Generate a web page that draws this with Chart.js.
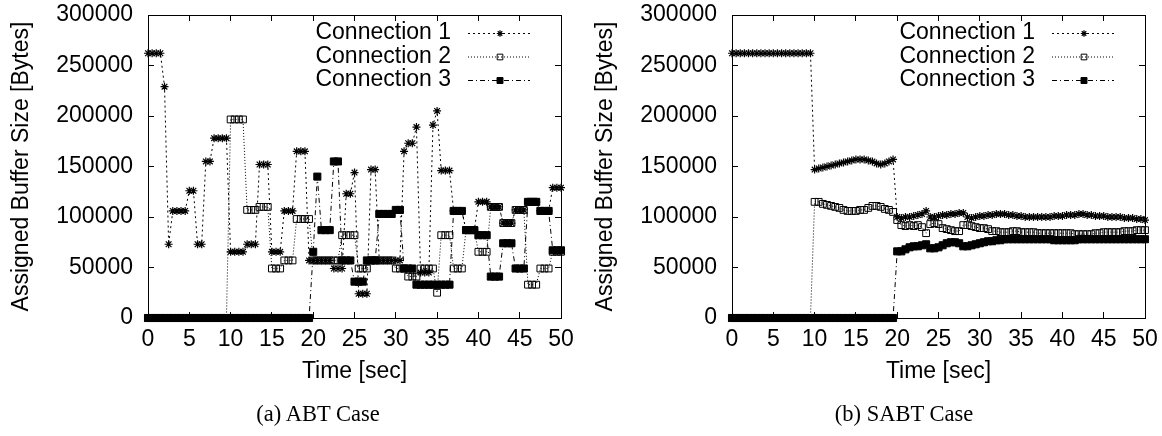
<!DOCTYPE html>
<html>
<head>
<meta charset="utf-8">
<script src="https://cdn.jsdelivr.net/npm/chart.js@4.4.1/dist/chart.umd.min.js"></script>
<style>
  body { margin: 0; background: #fff; width: 1162px; height: 436px; overflow: hidden; position: relative; }
  canvas { position: absolute; top: 0; }
  .caption { position: absolute; top: 401px; font: 22.5px "Liberation Serif", "Times New Roman", serif; transform: translateX(-50%); white-space: nowrap; color: #000; }
</style>
</head>
<body>
<canvas id="abtChart" width="581" height="436" style="left:0"></canvas>
<canvas id="sabtChart" width="578" height="436" style="left:584px"></canvas>
<div class="caption" style="left:318px">(a) ABT Case</div>
<div class="caption" style="left:904px">(b) SABT Case</div>
<script>
// sample times [sec]
const timeSec = [
  0, 0.5, 1, 1.5, 2, 2.5, 3, 3.5, 4, 4.5,
  5, 5.5, 6, 6.5, 7, 7.5, 8, 8.5, 9, 9.5,
  10, 10.5, 11, 11.5, 12, 12.5, 13, 13.5, 14, 14.5,
  15, 15.5, 16, 16.5, 17, 17.5, 18, 18.5, 19, 19.5,
  20, 20.5, 21, 21.5, 22, 22.5, 23, 23.5, 24, 24.5,
  25, 25.5, 26, 26.5, 27, 27.5, 28, 28.5, 29, 29.5,
  30, 30.5, 31, 31.5, 32, 32.5, 33, 33.5, 34, 34.5,
  35, 35.5, 36, 36.5, 37, 37.5, 38, 38.5, 39, 39.5,
  40, 40.5, 41, 41.5, 42, 42.5, 43, 43.5, 44, 44.5,
  45, 45.5, 46, 46.5, 47, 47.5, 48, 48.5, 49, 49.5,
  50
];

const xTicks = [0, 5, 10, 15, 20, 25, 30, 35, 40, 45, 50];
const yTicks = [0, 50000, 100000, 150000, 200000, 250000, 300000];
const seriesNames = ['Connection 1', 'Connection 2', 'Connection 3'];

// (a) ABT case
const abtConn1 = [
  262144, 262144, 262144, 262144, 229000, 73000, 106000, 106000, 106000, 106000,
  126000, 126000, 73000, 73000, 155000, 155000, 178000, 178000, 178000, 178000,
  65536, 65536, 65536, 65536, 73000, 73000, 73000, 152000, 152000, 152000,
  65536, 65536, 65536, 106000, 106000, 106000, 165000, 165000, 165000, 57000,
  57000, 57000, 57000, 57000, 57000, 49000, 49000, 49000, 123000, 123000,
  144000, 24000, 24000, 24000, 147000, 147000, 57000, 57000, 57000, 57000,
  57000, 57000, 165000, 173000, 173000, 189000, 45000, 45000, 45000, 191000,
  205000, 146000, 146000, 146000, 106000, 106000, 106000, 87000, 87000, 87000,
  115000, 115000, 115000, 110000, 110000, 110000, 94000, 94000, 94000, 107000,
  107000, 107000, 115000, 115000, 115000, 106000, 106000, 106000, 129000, 129000,
  129000
];
const abtConn2 = [
  0, 0, 0, 0, 0, 0, 0, 0, 0, 0,
  0, 0, 0, 0, 0, 0, 0, 0, 0, 0,
  196608, 196608, 196608, 196608, 107000, 107000, 107000, 110000, 110000, 110000,
  49000, 49000, 49000, 57000, 57000, 57000, 98000, 98000, 98000, 98000,
  57000, 57000, 57000, 57000, 57000, 57000, 57000, 82000, 82000, 82000,
  82000, 49000, 49000, 49000, 57000, 57000, 57000, 57000, 57000, 57000,
  49000, 49000, 49000, 41000, 41000, 41000, 49000, 49000, 49000, 49000,
  25000, 82000, 82000, 82000, 49000, 49000, 49000, 87000, 87000, 87000,
  65536, 65536, 65536, 110000, 110000, 110000, 94000, 94000, 94000, 107000,
  107000, 107000, 33000, 33000, 33000, 49000, 49000, 49000, 65536, 65536,
  65536
];
const abtConn3 = [
  0, 0, 0, 0, 0, 0, 0, 0, 0, 0,
  0, 0, 0, 0, 0, 0, 0, 0, 0, 0,
  0, 0, 0, 0, 0, 0, 0, 0, 0, 0,
  0, 0, 0, 0, 0, 0, 0, 0, 0, 0,
  65536, 140000, 87000, 87000, 87000, 155000, 155000, 57000, 57000, 57000,
  36000, 36000, 36000, 57000, 57000, 57000, 103000, 103000, 103000, 103000,
  107000, 107000, 49000, 49000, 49000, 33000, 33000, 33000, 33000, 33000,
  33000, 33000, 33000, 33000, 106000, 106000, 106000, 87000, 87000, 87000,
  82000, 82000, 82000, 41000, 41000, 41000, 74000, 74000, 74000, 49000,
  49000, 49000, 115000, 115000, 115000, 106000, 106000, 106000, 67000, 67000,
  67000
];

// (b) SABT case
const sabtConn1 = [
  262144, 262144, 262144, 262144, 262144, 262144, 262144, 262144, 262144, 262144,
  262144, 262144, 262144, 262144, 262144, 262144, 262144, 262144, 262144, 262144,
  147000, 148000, 149000, 150000, 151000, 152000, 153000, 154000, 155000, 156000,
  157000, 157000, 157000, 156000, 155000, 153000, 152000, 153000, 155000, 157000,
  100000, 99000, 100000, 100000, 101000, 102000, 103000, 106000, 100000, 100000,
  101000, 102000, 102000, 103000, 103000, 104000, 104000, 100000, 99000, 100000,
  101000, 101000, 102000, 102000, 103000, 103000, 103000, 102000, 102000, 101000,
  101000, 100000, 100000, 100000, 100000, 100000, 100000, 100000, 101000, 101000,
  101000, 102000, 102000, 102000, 103000, 103000, 102000, 102000, 101000, 101000,
  101000, 100000, 100000, 100000, 100000, 99000, 99000, 99000, 98000, 98000,
  97000
];
const sabtConn2 = [
  0, 0, 0, 0, 0, 0, 0, 0, 0, 0,
  0, 0, 0, 0, 0, 0, 0, 0, 0, 0,
  115000, 115000, 113000, 112000, 111000, 110000, 109000, 107000, 106000, 106000,
  106000, 107000, 107000, 109000, 111000, 111000, 110000, 108000, 107000, 105000,
  97000, 92000, 91000, 92000, 91000, 92000, 90000, 84000, 93000, 94000,
  93000, 89000, 88000, 87000, 86000, 86000, 92000, 92000, 91000, 90000,
  89000, 89000, 88000, 86000, 86000, 85000, 85000, 85000, 86000, 86000,
  85000, 85000, 85000, 85000, 84000, 84000, 84000, 84000, 84000, 84000,
  84000, 84000, 84000, 83000, 83000, 83000, 83000, 83000, 84000, 84000,
  85000, 85000, 85000, 85000, 85000, 86000, 86000, 86000, 87000, 87000,
  87000
];
const sabtConn3 = [
  0, 0, 0, 0, 0, 0, 0, 0, 0, 0,
  0, 0, 0, 0, 0, 0, 0, 0, 0, 0,
  0, 0, 0, 0, 0, 0, 0, 0, 0, 0,
  0, 0, 0, 0, 0, 0, 0, 0, 0, 0,
  66000, 66000, 68000, 70000, 71000, 71000, 72000, 73000, 69000, 69000,
  70000, 72000, 74000, 75000, 75000, 74000, 71000, 71000, 72000, 73000,
  74000, 75000, 76000, 76000, 77000, 77000, 78000, 78000, 78000, 78000,
  78000, 78000, 78000, 78000, 78000, 78000, 78000, 78000, 77000, 77000,
  77000, 77000, 77000, 77000, 78000, 78000, 78000, 78000, 78000, 78000,
  78000, 78000, 78000, 78000, 78000, 78000, 78000, 78000, 78000, 78000,
  78000
];

const FONT = '"Liberation Sans", Arial, Helvetica, sans-serif';
const FS = 23;

function pts(values) {
  return values.map((v, i) => ({ x: timeSec[i], y: v }));
}

function makeDatasets(c1, c2, c3) {
  return [
    {
      label: seriesNames[0], data: pts(c1),
      borderColor: '#000', borderWidth: 1, borderDash: [2, 3],
      pointStyle: 'star', pointRadius: 4, pointBorderWidth: 1.2,
      pointBorderColor: '#000', pointBackgroundColor: '#000',
      order: 2, clip: false
    },
    {
      label: seriesNames[1], data: pts(c2),
      borderColor: '#000', borderWidth: 1, borderDash: [1, 2],
      pointStyle: 'rect', pointRadius: 4.8, pointBorderWidth: 1,
      pointBorderColor: '#000', pointBackgroundColor: 'rgba(0,0,0,0)',
      order: 1, clip: false
    },
    {
      label: seriesNames[2], data: pts(c3),
      borderColor: '#000', borderWidth: 1, borderDash: [5, 3, 1, 3],
      pointStyle: 'rect', pointRadius: 5, pointBorderWidth: 1,
      pointBorderColor: '#000', pointBackgroundColor: '#000',
      order: 0, clip: false
    }
  ];
}

// gnuplot style key, top right inside the plot
const keyPlugin = {
  id: 'keyBox',
  afterDatasetsDraw(chart) {
    const { ctx, chartArea } = chart;
    const right = chartArea.right;
    chart.data.datasets.forEach((ds, i) => {
      const y = chartArea.top + 18 + i * 23.5;
      ctx.save();
      ctx.font = FS + 'px ' + FONT;
      ctx.fillStyle = '#000';
      ctx.textAlign = 'right';
      ctx.textBaseline = 'middle';
      ctx.fillText(ds.label, right - 110, y);
      ctx.strokeStyle = '#000';
      ctx.lineWidth = 1;
      ctx.setLineDash(ds.borderDash);
      ctx.beginPath();
      ctx.moveTo(right - 93, y + 0.5);
      ctx.lineTo(right - 31, y + 0.5);
      ctx.stroke();
      ctx.setLineDash([]);
      ctx.fillStyle = ds.pointBackgroundColor;
      ctx.strokeStyle = ds.pointBorderColor;
      ctx.lineWidth = ds.pointBorderWidth;
      Chart.helpers.drawPoint(ctx, { pointStyle: ds.pointStyle, radius: ds.pointRadius - 0.8, borderWidth: ds.pointBorderWidth, rotation: 0 }, right - 61, y + 0.5);
      ctx.restore();
    });
  }
};

function tickMarks() {
  return { drawOnChartArea: false, drawTicks: true, tickLength: -6, color: '#000', lineWidth: 1 };
}

// keep the label overhang from shrinking the plot box
function noPadX(s, h) { s.height = h; s.paddingLeft = 0; s.paddingRight = 0; }
function noPadY(s, w) { s.width = w; s.paddingTop = 0; s.paddingBottom = 0; }

function makeChart(id, c1, c2, c3, rightW) {
  const tickFont = { family: FONT, size: FS };
  return new Chart(document.getElementById(id), {
    type: 'line',
    data: { datasets: makeDatasets(c1, c2, c3) },
    options: {
      responsive: false,
      animation: false,
      events: [],
      layout: { padding: 0 },
      plugins: { legend: { display: false }, tooltip: { enabled: false } },
      scales: {
        x: {
          type: 'linear', position: 'bottom', min: 0, max: 50,
          afterBuildTicks: s => { s.ticks = xTicks.map(v => ({ value: v })); },
          ticks: { color: '#000', font: tickFont, padding: 14, maxRotation: 0, autoSkip: false, callback: v => String(v) },
          grid: tickMarks(),
          border: { color: '#000', width: 1 },
          title: { display: true, text: 'Time [sec]', color: '#000', font: tickFont, padding: { top: 0, bottom: 51 } },
          afterFit: s => noPadX(s, 118)
        },
        xTop: {
          type: 'linear', position: 'top', min: 0, max: 50,
          afterBuildTicks: s => { s.ticks = xTicks.map(v => ({ value: v })); },
          ticks: { display: false },
          grid: tickMarks(),
          border: { color: '#000', width: 1 },
          afterFit: s => noPadX(s, 15)
        },
        y: {
          type: 'linear', position: 'left', min: 0, max: 300000,
          afterBuildTicks: s => { s.ticks = yTicks.map(v => ({ value: v })); },
          ticks: { color: '#000', font: tickFont, padding: 21, callback: v => String(v) },
          grid: tickMarks(),
          border: { color: '#000', width: 1 },
          title: { display: true, text: 'Assigned Buffer Size [Bytes]', color: '#000', font: tickFont, padding: { top: 8, bottom: 0 } },
          afterFit: s => noPadY(s, 148)
        },
        yRight: {
          type: 'linear', position: 'right', min: 0, max: 300000,
          afterBuildTicks: s => { s.ticks = yTicks.map(v => ({ value: v })); },
          ticks: { display: false },
          grid: tickMarks(),
          border: { color: '#000', width: 1 },
          afterFit: s => noPadY(s, rightW)
        }
      }
    },
    plugins: [keyPlugin]
  });
}

makeChart('abtChart', abtConn1, abtConn2, abtConn3, 20);
makeChart('sabtChart', sabtConn1, sabtConn2, sabtConn3, 17);
</script>
</body>
</html>
